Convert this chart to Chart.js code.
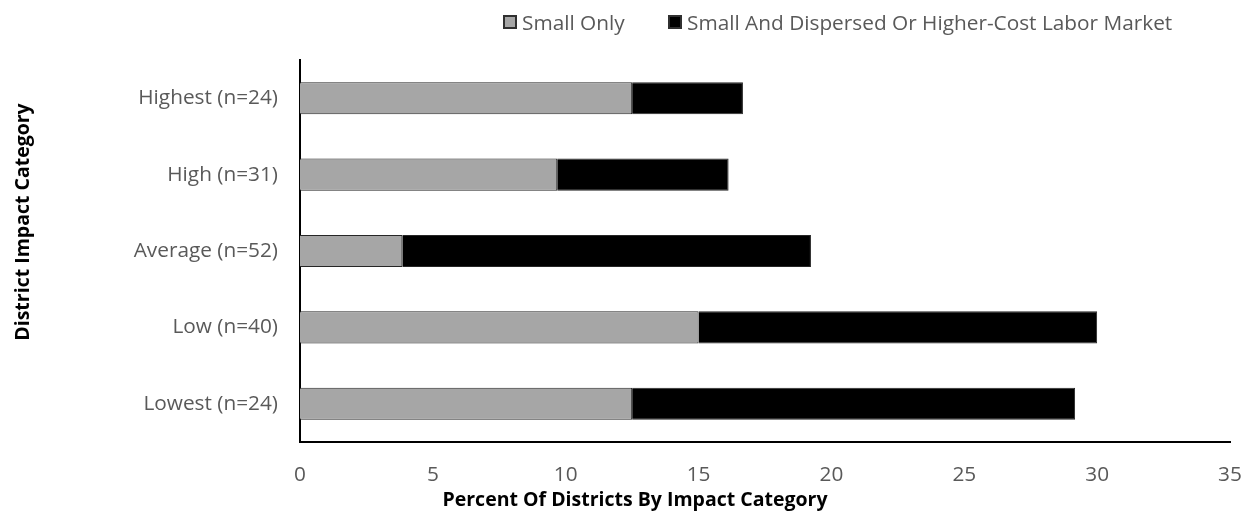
<!DOCTYPE html>
<html>
<head>
<meta charset="utf-8">
<script src="https://cdn.jsdelivr.net/npm/chart.js@4/dist/chart.umd.min.js"></script>
<style>
  html, body { margin: 0; padding: 0; background: #fff; }
  #wrap { position: relative; width: 1249px; height: 512px; }
  #legend { position: absolute; top: 8px; left: 503px; font: 20.8px "Open Sans", sans-serif; color: #595959; }
  #legend .item { position: absolute; top: 0; white-space: nowrap; display: flex; align-items: center; }
  #legend .box { width: 14px; height: 14px; margin-right: 5px; box-sizing: border-box; border: 2px solid #303030; }
</style>
</head>
<body>
<div id="wrap">
  <canvas id="chart" width="1249" height="512"></canvas>
  <div id="legend"></div>
</div>
<script>
  const categories = ["Highest (n=24)", "High (n=31)", "Average (n=52)", "Low (n=40)", "Lowest (n=24)"];
  const seriesNames = ["Small Only", "Small And Dispersed Or Higher-Cost Labor Market"];
  const smallOnly = [12.5, 9.68, 3.85, 15.0, 12.5];
  const dispersed = [4.17, 6.45, 15.38, 15.0, 16.67];
  const xTicks = [0, 5, 10, 15, 20, 25, 30, 35];
  const colors = ["#a6a6a6", "#000000"];

  const FONT = '"Open Sans", sans-serif';

  // axis titles sit off-centre in the original, so draw them by hand
  const axisTitles = {
    id: "axisTitles",
    afterDraw(chart) {
      const ctx = chart.ctx;
      ctx.save();
      ctx.fillStyle = "#000";
      ctx.font = "bold 19.5px " + FONT;
      ctx.textAlign = "center";
      ctx.textBaseline = "middle";
      ctx.fillText("Percent Of Districts By Impact Category", 635, 500);
      ctx.translate(23, 222);
      ctx.rotate(-Math.PI / 2);
      ctx.fillText("District Impact Category", 0, 0);
      ctx.restore();
    },
  };

  new Chart(document.getElementById("chart"), {
    type: "bar",
    data: {
      labels: categories,
      datasets: [
        {
          label: seriesNames[0],
          data: smallOnly,
          backgroundColor: colors[0],
          borderColor: "#262626",
          borderWidth: 1,
          categoryPercentage: 1,
          barPercentage: 0.42,
        },
        {
          label: seriesNames[1],
          data: dispersed,
          backgroundColor: colors[1],
          borderColor: "#262626",
          borderWidth: 1,
          categoryPercentage: 1,
          barPercentage: 0.42,
        },
      ],
    },
    options: {
      indexAxis: "y",
      responsive: false,
      animation: false,
      layout: { padding: { top: 60, right: 19, left: 0, bottom: 0 } },
      plugins: {
        legend: { display: false },
        tooltip: { enabled: false },
      },
      scales: {
        x: {
          stacked: true,
          min: 0,
          max: 35,
          afterBuildTicks(scale) {
            scale.ticks = xTicks.map((v) => ({ value: v }));
          },
          afterFit(scale) {
            scale.height = 70;
            scale.paddingLeft = 0;
            scale.paddingRight = 0;
          },
          grid: { display: false, drawTicks: false },
          border: { display: true, color: "#000", width: 2 },
          ticks: { color: "#595959", font: { family: FONT, size: 20.8 }, padding: 21 },
        },
        y: {
          stacked: true,
          afterFit(scale) {
            scale.width = 300;
            scale.paddingTop = 0;
            scale.paddingBottom = 0;
          },
          grid: { display: false, drawTicks: false },
          border: { display: true, color: "#000", width: 2 },
          ticks: { color: "#595959", font: { family: FONT, size: 20.8 }, padding: 22 },
        },
      },
    },
    plugins: [axisTitles],
  });

  const legend = document.getElementById("legend");
  const offsets = [0, 165];
  seriesNames.forEach((name, i) => {
    const item = document.createElement("div");
    item.className = "item";
    item.style.left = offsets[i] + "px";
    const box = document.createElement("span");
    box.className = "box";
    box.style.background = colors[i];
    const txt = document.createElement("span");
    txt.textContent = name;
    item.appendChild(box);
    item.appendChild(txt);
    legend.appendChild(item);
  });
</script>
</body>
</html>
